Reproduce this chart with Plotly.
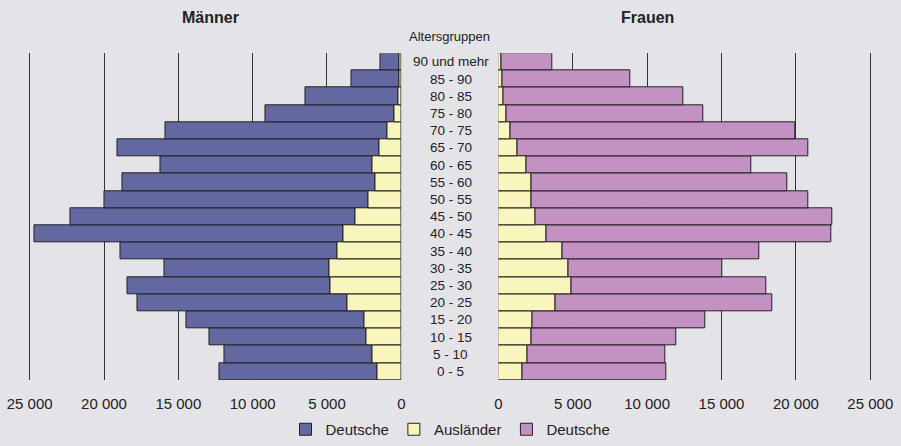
import plotly.graph_objects as go

# ---- data ----
age_groups = ["0 - 5", "5 - 10", "10 - 15", "15 - 20", "20 - 25", "25 - 30", "30 - 35",
              "35 - 40", "40 - 45", "45 - 50", "50 - 55", "55 - 60", "60 - 65", "65 - 70",
              "70 - 75", "75 - 80", "80 - 85", "85 - 90", "90 und mehr"]

men_auslaender = [1630, 1920, 2310, 2460, 3650, 4750, 4850, 4310, 3880, 3050,
                  2190, 1720, 1950, 1500, 910, 490, 180, 130, 120]
men_total = [12200, 11870, 12920, 14420, 17770, 18440, 15900, 18910, 24700, 22230,
             19990, 18730, 16190, 19070, 15880, 9150, 6460, 3320, 1410]
men_deutsche = [t - a for t, a in zip(men_total, men_auslaender)]

women_auslaender = [1640, 1950, 2240, 2270, 3860, 4890, 4730, 4300, 3200, 2490,
                    2220, 2240, 1860, 1260, 830, 520, 340, 270, 200]
women_total = [11290, 11250, 11960, 13940, 18440, 18040, 15080, 17570, 22400, 22430,
               20810, 19450, 17000, 20830, 19990, 13800, 12460, 8870, 3630]
women_deutsche = [t - a for t, a in zip(women_total, women_auslaender)]

tick_vals = [0, 5000, 10000, 15000, 20000, 25000]
tick_text = ["0", "5 000", "10 000", "15 000", "20 000", "25 000"]

# ---- styling ----
W, H = 901, 446
BG = "#e4e3e8"
C_MEN = "#6468a0"
C_AUSL = "#f8f5bd"
C_WOMEN = "#c392c3"
LINE = dict(color="#222222", width=1)
FONT = "Liberation Sans, Arial, sans-serif"
TXT = "#222222"

# pixel geometry of the two panels (value 0 and 25000 positions)
XMAX = 25150
L0, L25 = 401.3, 29.7
R0, R25 = 498.3, 870.3
l_left = L0 - (L0 - L25) * XMAX / 25000
r_right = R0 + (R25 - R0) * XMAX / 25000

fig = go.Figure()

fig.add_trace(go.Bar(y=age_groups, x=men_deutsche, base=men_auslaender, orientation="h",
                     name="Deutsche", marker=dict(color=C_MEN, line=LINE),
                     xaxis="x", yaxis="y", showlegend=True))
fig.add_trace(go.Bar(y=age_groups, x=men_auslaender, orientation="h", name="Ausländer",
                     marker=dict(color=C_AUSL, line=LINE), xaxis="x", yaxis="y",
                     showlegend=True))
fig.add_trace(go.Bar(y=age_groups, x=women_deutsche, base=women_auslaender, orientation="h",
                     name="Deutsche", marker=dict(color=C_WOMEN, line=LINE),
                     xaxis="x2", yaxis="y2", showlegend=True))
fig.add_trace(go.Bar(y=age_groups, x=women_auslaender, orientation="h", name="Ausländer",
                     marker=dict(color=C_AUSL, line=LINE), xaxis="x2", yaxis="y2",
                     showlegend=False))

ydom = [1 - 380.0 / H, 1 - 53.3 / H]
axis_common = dict(tickvals=tick_vals, ticktext=tick_text, showgrid=True,
                   gridcolor="#333333", gridwidth=1, zeroline=False, showline=False,
                   ticks="", automargin=False, ticklabelstandoff=13,
                   tickfont=dict(family=FONT, size=15, color=TXT))
fig.update_layout(
    width=W, height=H, autosize=False,
    paper_bgcolor=BG, plot_bgcolor=BG,
    margin=dict(l=0, r=0, t=0, b=0, pad=0),
    barmode="overlay", bargap=0,
    font=dict(family=FONT, color=TXT),
    xaxis=dict(domain=[l_left / W, L0 / W], range=[XMAX, 0], anchor="y", **axis_common),
    xaxis2=dict(domain=[R0 / W, r_right / W], range=[0, XMAX], anchor="y2", **axis_common),
    yaxis=dict(domain=ydom, range=[-0.5, 18.5], showticklabels=False, showgrid=False,
               zeroline=False, anchor="x", automargin=False),
    yaxis2=dict(domain=ydom, range=[-0.5, 18.5], showticklabels=False, showgrid=False,
                zeroline=False, anchor="x2", automargin=False),
    legend=dict(orientation="h", x=0.5, xanchor="center", y=0, yanchor="bottom",
                font=dict(family=FONT, size=15, color=TXT), bgcolor="rgba(0,0,0,0)",
                itemwidth=30, traceorder="normal"),
)

# age group labels in the centre
for i, g in enumerate(age_groups):
    fig.add_annotation(x=0.5, xref="paper", y=i, yref="y", text=g, showarrow=False,
                       xanchor="center", yanchor="middle",
                       font=dict(family=FONT, size=13.5, color=TXT))

fig.add_annotation(x=449.5 / W, xref="paper", y=1 - 36.0 / H, yref="paper",
                   text="Altersgruppen", showarrow=False, xanchor="center", yanchor="middle",
                   font=dict(family=FONT, size=13, color=TXT))
fig.add_annotation(x=210.0 / W, xref="paper", y=1 - 17.0 / H, yref="paper",
                   text="<b>Männer</b>", showarrow=False, xanchor="center", yanchor="middle",
                   font=dict(family=FONT, size=16, color=TXT))
fig.add_annotation(x=647.0 / W, xref="paper", y=1 - 17.0 / H, yref="paper",
                   text="<b>Frauen</b>", showarrow=False, xanchor="center", yanchor="middle",
                   font=dict(family=FONT, size=16, color=TXT))

fig.write_html("out.html", config={"displayModeBar": False},
               post_script="document.body.style.margin='0';document.body.style.padding='0';")
